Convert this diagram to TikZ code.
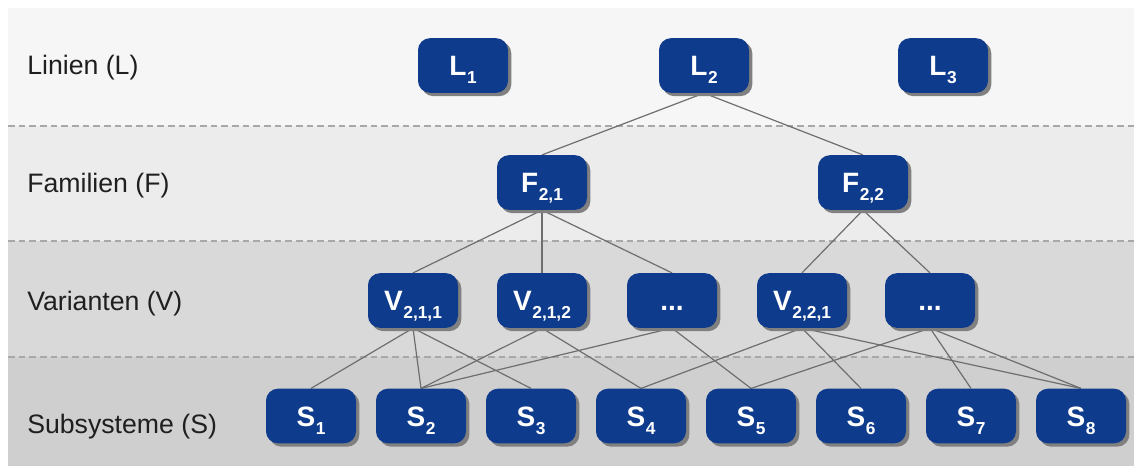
\documentclass[tikz,border=0pt]{standalone}
\usepackage{fontspec}
\setmainfont{Liberation Sans}
\usetikzlibrary{shadows}
\definecolor{nodeblue}{HTML}{0E3B8C}
\definecolor{bandA}{HTML}{F6F6F6}
\definecolor{bandB}{HTML}{ECECEC}
\definecolor{bandC}{HTML}{D9D9D9}
\definecolor{bandD}{HTML}{CFCFCF}
\definecolor{edgegray}{HTML}{6E6E6E}
\definecolor{sepgray}{HTML}{A8A8A8}
\newcommand\subidx[1]{\kern0.5pt\raisebox{-6pt}{\fontsize{13}{13}\selectfont\bfseries #1}}
\pgfdeclarelayer{bands}
\pgfdeclarelayer{edges}
\pgfsetlayers{bands,edges,main}
\begin{document}
\begin{tikzpicture}[x=0.75pt,y=-0.75pt,
  box/.style={fill=nodeblue, rounded corners=9pt, minimum width=67.5pt,
    minimum height=41pt, text=white, inner sep=0pt,
    font=\fontsize{21}{21}\selectfont\bfseries, text height=15pt, text depth=0pt,
    drop shadow={shadow xshift=2.5pt, shadow yshift=-2.5pt, fill=black!50, opacity=1}},
  lvl/.style={anchor=base west, inner sep=0pt, font=\fontsize{20}{20}\selectfont, text=black!88},
  edge/.style={draw=edgegray, line width=0.9pt},
  sep/.style={draw=sepgray, line width=1pt, dash pattern=on 5pt off 3pt}]
\useasboundingbox (0,0) rectangle (1134,468);
\begin{pgfonlayer}{bands}
  \fill[white] (0,0) rectangle (1134,468);
  \fill[bandA] (8,8) rectangle (1134,126);
  \fill[bandB] (8,126) rectangle (1134,241);
  \fill[bandC] (8,241) rectangle (1134,357);
  \fill[bandD] (8,357) rectangle (1134,466);
  \draw[sep] (8,126) -- (1134,126);
  \draw[sep] (8,241) -- (1134,241);
  \draw[sep] (8,357) -- (1134,357);
\end{pgfonlayer}
% level labels
\node[lvl] (tl) at (27,74) {Linien (L)};
\node[lvl] (tf) at (27,192) {Familien (F)};
\node[lvl] (tv) at (27,310) {Varianten (V)};
\node[lvl] (ts) at (27,433) {Subsysteme (S)};
% lines
\node[box] (L1) at (463,65.5) {L\subidx{1}};
\node[box] (L2) at (704,65.5) {L\subidx{2}};
\node[box] (L3) at (943,65.5) {L\subidx{3}};
% families
\node[box] (F21) at (542,182.5) {F\subidx{2,1}};
\node[box] (F22) at (863,182.5) {F\subidx{2,2}};
% variants
\node[box] (V211) at (413,300.5) {V\subidx{2,1,1}};
\node[box] (V212) at (542,300.5) {V\subidx{2,1,2}};
\node[box] (Vd1) at (672,300.5) {...};
\node[box] (V221) at (802,300.5) {V\subidx{2,2,1}};
\node[box] (Vd2) at (930,300.5) {...};
% subsystems
\node[box] (S1) at (311,416) {S\subidx{1}};
\node[box] (S2) at (421,416) {S\subidx{2}};
\node[box] (S3) at (531,416) {S\subidx{3}};
\node[box] (S4) at (641,416) {S\subidx{4}};
\node[box] (S5) at (751,416) {S\subidx{5}};
\node[box] (S6) at (861,416) {S\subidx{6}};
\node[box] (S7) at (971,416) {S\subidx{7}};
\node[box] (S8) at (1081,416) {S\subidx{8}};
\begin{pgfonlayer}{edges}
  \draw[edge] (L2.south) -- (F21.north);
  \draw[edge] (L2.south) -- (F22.north);
  \draw[edge] (F21.south) -- (V211.north);
  \draw[edge] (F21.south) -- (V212.north);
  \draw[edge] (F21.south) -- (Vd1.north);
  \draw[edge] (F22.south) -- (V221.north);
  \draw[edge] (F22.south) -- (Vd2.north);
  \draw[edge] (V211.south) -- (S1.north);
  \draw[edge] (V211.south) -- (S2.north);
  \draw[edge] (V211.south) -- (S3.north);
  \draw[edge] (V212.south) -- (S2.north);
  \draw[edge] (V212.south) -- (S4.north);
  \draw[edge] (Vd1.south) -- (S2.north);
  \draw[edge] (Vd1.south) -- (S5.north);
  \draw[edge] (V221.south) -- (S4.north);
  \draw[edge] (V221.south) -- (S6.north);
  \draw[edge] (V221.south) -- (S8.north);
  \draw[edge] (Vd2.south) -- (S5.north);
  \draw[edge] (Vd2.south) -- (S7.north);
  \draw[edge] (Vd2.south) -- (S8.north);
\end{pgfonlayer}
\end{tikzpicture}
\end{document}
